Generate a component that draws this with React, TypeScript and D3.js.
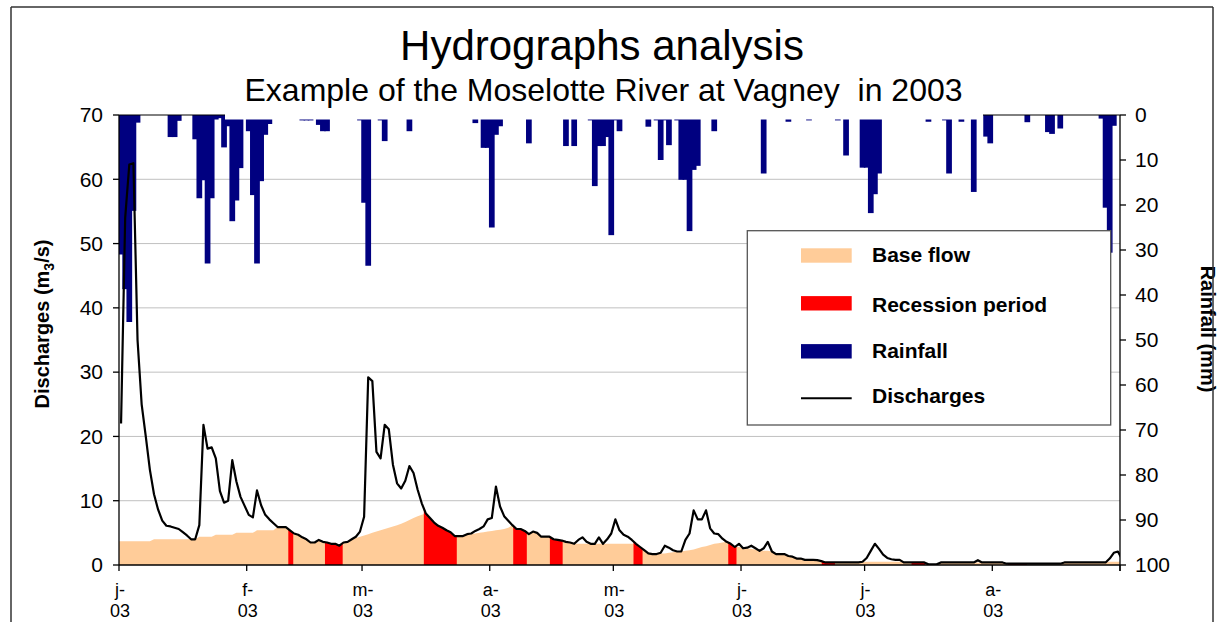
import React from 'react';
import * as d3 from 'd3';

// Daily discharges (m3/s), 1 Jan 2003 .. 1 Sep 2003
const discharge: number[] = [
  22, 54, 62.3, 62.5, 35, 25, 20, 14.8, 11, 8.6,
  6.9, 6.1, 6.0, 5.8, 5.6, 5.1, 4.6, 4.0, 4.0, 6.2,
  21.8, 18.1, 18.3, 16.6, 11.5, 9.7, 10, 16.3, 13, 10.6,
  9.2, 7.8, 7.4, 11.6, 9.3, 7.8, 7.1, 6.5, 5.9, 5.9,
  5.9, 5.4, 4.9, 4.7, 4.3, 4.0, 3.5, 3.5, 3.9, 3.6,
  3.5, 3.3, 3.3, 3.0, 3.5, 3.6, 4.0, 4.4, 5.2, 7.5,
  29.2, 28.6, 17.6, 16.6, 21.8, 21.1, 15.6, 12.7, 11.9, 13.1,
  15.4, 14.3, 11.7, 9.6, 8.0, 7.3, 6.6, 6.1, 5.8, 5.4,
  5.1, 4.5, 4.5, 4.5, 4.8, 4.9, 5.3, 5.6, 6.0, 7.1,
  7.3, 12.2, 9.1, 7.6, 6.9, 6.2, 5.6, 5.6, 5.3, 4.8,
  5.2, 5.0, 4.4, 4.4, 4.4, 4.0, 3.9, 3.8, 3.6, 3.5,
  3.3, 3.9, 4.3, 3.6, 3.3, 3.3, 4.3, 3.3, 4.0, 4.9,
  7.1, 5.4, 4.7, 4.4, 3.9, 3.3, 2.8, 2.3, 1.8, 1.7,
  1.7, 1.9, 3.0, 2.7, 2.3, 2.1, 2.1, 3.9, 4.9, 8.5,
  7.1, 7.1, 8.5, 5.7, 4.9, 4.8, 4.1, 3.6, 3.3, 2.8,
  3.3, 2.6, 2.7, 3.0, 2.6, 2.2, 2.6, 3.6, 2.1, 1.7,
  1.7, 1.7, 1.4, 1.3, 1.0, 1.0, 0.8, 0.8, 0.8, 0.75,
  0.6, 0.4, 0.4, 0.4, 0.4, 0.4, 0.4, 0.4, 0.4, 0.4,
  0.5, 1.1, 2.2, 3.3, 2.5, 1.6, 1.1, 0.9, 0.8, 0.8,
  0.4, 0.4, 0.4, 0.4, 0.4, 0.4, 0.1, 0.1, 0.1, 0.4,
  0.4, 0.4, 0.4, 0.4, 0.4, 0.4, 0.4, 0.4, 0.75, 0.4,
  0.4, 0.4, 0.4, 0.4, 0.4, 0.2, 0.2, 0.2, 0.2, 0.2,
  0.2, 0.2, 0.2, 0.2, 0.2, 0.2, 0.2, 0.2, 0.2, 0.4,
  0.4, 0.4, 0.4, 0.4, 0.4, 0.4, 0.4, 0.4, 0.4, 0.4,
  1.0, 1.9, 2.1, 0.9,
];

// Daily base flow (m3/s)
const baseFlow: number[] = [
  3.7, 3.7, 3.7, 3.7, 3.7, 3.7, 3.7, 3.7, 4.0, 4.0,
  4.0, 4.0, 4.0, 4.0, 4.0, 4.0, 4.0, 4.0, 4.0, 4.4,
  4.4, 4.4, 4.4, 4.7, 4.7, 4.7, 4.7, 4.7, 5.0, 5.0,
  5.0, 5.0, 5.0, 5.4, 5.4, 5.4, 5.4, 5.4, 5.9, 5.9,
  5.9, 5.4, 4.9, 4.7, 4.3, 4.0, 3.5, 3.5, 3.9, 3.6,
  3.5, 3.3, 3.3, 3.0, 3.5, 3.6, 4.0, 4.2, 4.4, 4.6,
  4.8, 5.0, 5.2, 5.4, 5.6, 5.8, 6.0, 6.2, 6.4, 6.7,
  7.0, 7.3, 7.6, 7.8, 8.0, 7.3, 6.6, 6.1, 5.8, 5.4,
  5.1, 4.5, 4.5, 4.5, 4.7, 4.8, 4.9, 5.0, 5.1, 5.2,
  5.3, 5.4, 5.5, 5.6, 5.8, 6.2, 5.6, 5.6, 5.3, 4.8,
  5.2, 5.0, 4.4, 4.4, 4.4, 4.0, 3.9, 3.8, 3.6, 3.5,
  3.3, 3.3, 3.3, 3.3, 3.3, 3.3, 3.3, 3.3, 3.3, 3.3,
  3.3, 3.3, 3.3, 3.3, 3.3, 3.3, 2.8, 2.3, 1.8, 1.7,
  1.7, 1.8, 1.8, 1.9, 2.0, 2.1, 2.1, 2.2, 2.3, 2.4,
  2.6, 2.8, 2.9, 3.1, 3.3, 3.4, 3.5, 3.6, 3.3, 2.8,
  2.8, 2.6, 2.6, 2.5, 2.4, 2.2, 2.2, 2.2, 2.1, 1.7,
  1.7, 1.7, 1.4, 1.3, 1.0, 1.0, 0.8, 0.8, 0.8, 0.75,
  0.6, 0.4, 0.4, 0.4, 0.4, 0.4, 0.4, 0.4, 0.4, 0.4,
  0.5, 0.5, 0.5, 0.5, 0.5, 0.5, 0.5, 0.5, 0.5, 0.5,
  0.4, 0.4, 0.4, 0.4, 0.4, 0.4, 0.1, 0.1, 0.1, 0.4,
  0.4, 0.4, 0.4, 0.4, 0.4, 0.4, 0.4, 0.4, 0.4, 0.4,
  0.4, 0.4, 0.4, 0.4, 0.4, 0.1, 0.1, 0.1, 0.1, 0.1,
  0.1, 0.1, 0.1, 0.1, 0.1, 0.1, 0.1, 0.1, 0.1, 0.4,
  0.4, 0.4, 0.4, 0.4, 0.4, 0.4, 0.4, 0.4, 0.4, 0.4,
  0.5, 0.5, 0.5, 0.5,
];

// Rainfall (mm): day index since 1 Jan and amount
const rainDays: number[] = [
  0, 1, 2, 3, 4, 12, 13, 14, 18, 19, 20, 21, 22, 23, 24, 25, 26, 27, 28, 29,
  31, 32, 33, 34, 35, 36, 44, 45, 46, 48, 49, 50, 58, 59, 60, 63, 64, 70, 86, 88,
  89, 90, 91, 92, 99, 108, 110, 114, 115, 116, 117, 118, 119, 120, 121, 128, 130, 131, 132, 133,
  135, 136, 137, 138, 139, 140, 144, 156, 162, 167, 174, 176, 180, 181, 182, 183, 184, 196, 200, 201,
  204, 207, 210, 211, 220, 225, 226, 228, 238, 239, 240, 241,
];
const rainMm: number[] = [
  31, 38.7, 46, 21.3, 1.7, 4.9, 4.9, 1.3, 5.4, 18.5, 14.5, 33, 18.5, 1.0, 0.7, 7.2, 2.5, 23.6, 19, 11.8,
  3.6, 17.8, 33, 14.7, 4.4, 2, 1.2, 1.2, 1.2, 2.2, 3.6, 3.6, 1.2, 19.5, 33.5, 1.2, 5.8, 3.6, 1.8, 7.3,
  7.3, 25, 4.4, 2.5, 6.3, 6.9, 6.9, 1.2, 15.8, 6.9, 6.9, 4.9, 26.7, 1.2, 3.6, 2.6, 1.2, 10, 1.2, 6.7,
  1.2, 14.4, 14.4, 25.8, 12.2, 11.3, 3.6, 13, 1.5, 1.2, 1.2, 9, 11.7, 11.7, 21.8, 17.6, 13, 1.5, 1.2, 13,
  1.5, 17.1, 4.8, 6.3, 1.6, 3.8, 4.2, 3, 0.8, 20.6, 30.6, 2.4,
];

// Recession periods (start / end, in days since 1 Jan)
const recessionStart: number[] = [41.1, 50.0, 74.0, 95.7, 104.6, 124.9, 147.9, 170.6, 192.4, 215.8];
const recessionEnd: number[] = [42.3, 54.3, 82.0, 99.0, 107.7, 127.1, 149.9, 173.8, 195.7, 220.4];

const monthStartDays: number[] = [0, 31, 59, 90, 120, 151, 181, 212, 243];
const monthLabels: string[] = ['j-', 'f-', 'm-', 'a-', 'm-', 'j-', 'j-', 'a-', ''];
const yearLabel = '03';
const leftTicks: number[] = [0, 10, 20, 30, 40, 50, 60, 70];
const rightTicks: number[] = [0, 10, 20, 30, 40, 50, 60, 70, 80, 90, 100];
const legendLabels: string[] = ['Base flow', 'Recession period', 'Rainfall', 'Discharges'];

const title = 'Hydrographs analysis';
const subtitle = 'Example of the Moselotte River at Vagney  in 2003';

const FONT = '"Liberation Sans", Arial, Helvetica, sans-serif';
const PEACH = '#FFCC99';
const RED = '#FF0000';
const NAVY = '#000080';

export default function App() {
  const W = 1219;
  const H = 622;
  const L = 119, R = 1120, T = 115, B = 565;

  const x = d3.scaleLinear().domain([0, 243]).range([L, R]);
  const yL = d3.scaleLinear().domain([0, 70]).range([B, T]);
  const yR = d3.scaleLinear().domain([0, 100]).range([T, B]);

  const qAt = (t: number) => {
    const p = t - 0.5;
    if (p <= 0) return discharge[0];
    if (p >= discharge.length - 1) return discharge[discharge.length - 1];
    const i = Math.floor(p);
    const f = p - i;
    return discharge[i] * (1 - f) + discharge[i + 1] * f;
  };

  const linePath = d3
    .line<number>()
    .x((_, i) => x(i + 0.5))
    .y((v) => yL(v))(discharge) || '';

  const basePts: [number, number][] = [[0, baseFlow[0]]];
  baseFlow.forEach((v, i) => basePts.push([i + 0.5, v]));
  basePts.push([243, baseFlow[baseFlow.length - 1]]);
  const area = d3
    .area<[number, number]>()
    .x((d) => x(d[0]))
    .y0(yL(0))
    .y1((d) => yL(d[1]));
  const basePath = area(basePts) || '';

  const redPaths = recessionStart.map((s, k) => {
    const e = recessionEnd[k];
    const pts: [number, number][] = [[s, qAt(s)]];
    for (let d = 0; d < discharge.length; d++) {
      const t = d + 0.5;
      if (t > s && t < e) pts.push([t, qAt(t)]);
    }
    pts.push([e, qAt(e)]);
    return area(pts) || '';
  });

  const step = x(1) - x(0);

  const legX = 747.3, legY = 230.7, legW = 363.4, legH = 194.3;
  const swX = 801, swW = 50.7;
  const rowY = [255.5, 303.3, 351.3, 398.3];
  const textBase = [262, 312, 358.3, 402.7];

  return (
    <svg
      width={W}
      height={H}
      viewBox={`0 0 ${W} ${H}`}
      style={{ position: 'absolute', left: 0, top: 0, background: '#fff', fontFamily: FONT }}
    >
      <defs>
        <clipPath id="plotClip">
          <rect x={L} y={T - 2} width={R - L} height={B - T + 2} />
        </clipPath>
      </defs>
      <rect x={0} y={0} width={W} height={H} fill="#fff" />

      {/* gridlines */}
      {leftTicks
        .filter((t) => t > 0 && t < 70)
        .map((t) => (
          <line key={'g' + t} x1={L} x2={R} y1={yL(t)} y2={yL(t)} stroke="#C0C0C0" strokeWidth={1} />
        ))}

      <g clipPath="url(#plotClip)">
        {/* base flow */}
        <path d={basePath} fill={PEACH} />
        {/* recession periods */}
        {redPaths.map((p, i) => (
          <path key={'r' + i} d={p} fill={RED} />
        ))}
        {/* rainfall bars */}
        {rainDays.map((d, i) => (
          <rect
            key={'b' + i}
            x={x(d) - 0.8}
            y={yR(0)}
            width={step + 1.6}
            height={yR(rainMm[i]) - yR(0)}
            fill={NAVY}
          />
        ))}
        {/* discharges */}
        <path d={linePath} fill="none" stroke="#000" strokeWidth={2.2} strokeLinejoin="round" />
      </g>

      {/* plot top border */}
      <line x1={L} x2={R} y1={T} y2={T} stroke="#000" strokeWidth={1} />
      {/* axes */}
      <line x1={L} x2={L} y1={T} y2={B} stroke="#000" strokeWidth={1.3} />
      <line x1={R} x2={R} y1={T} y2={B + 6} stroke="#000" strokeWidth={1.3} />
      <line x1={L} x2={R} y1={B} y2={B} stroke="#000" strokeWidth={1.3} />

      {/* left axis ticks */}
      {leftTicks.map((t) => (
        <g key={'lt' + t}>
          <line x1={L - 6} x2={L} y1={yL(t)} y2={yL(t)} stroke="#000" strokeWidth={1.3} />
          <text x={103} y={yL(t)} dy="0.35em" textAnchor="end" fontSize={21} fill="#000">
            {t}
          </text>
        </g>
      ))}
      {/* right axis ticks */}
      {rightTicks.map((t) => (
        <g key={'rt' + t}>
          <line x1={R} x2={R + 6} y1={yR(t)} y2={yR(t)} stroke="#000" strokeWidth={1.3} />
          <text x={1135} y={yR(t)} dy="0.35em" textAnchor="start" fontSize={21} fill="#000">
            {t}
          </text>
        </g>
      ))}
      {/* x axis ticks */}
      {monthStartDays.map((d, i) => (
        <g key={'xt' + i}>
          <line x1={x(d)} x2={x(d)} y1={B} y2={B + 6} stroke="#000" strokeWidth={1.3} />
          {monthLabels[i] !== '' && (
            <>
              <text x={x(d) + 1} y={596} textAnchor="middle" fontSize={18} fill="#000">
                {monthLabels[i]}
              </text>
              <text x={x(d) + 1} y={617} textAnchor="middle" fontSize={18} fill="#000">
                {yearLabel}
              </text>
            </>
          )}
        </g>
      ))}

      {/* axis titles */}
      <text
        transform="translate(49,324) rotate(-90)"
        textAnchor="middle"
        fontSize={20}
        fontWeight="bold"
        fill="#000"
      >
        Discharges (m
        <tspan fontSize={14} dy={5}>
          3
        </tspan>
        <tspan dy={-5}>/s)</tspan>
      </text>
      <text
        transform="translate(1201,329) rotate(90)"
        textAnchor="middle"
        fontSize={20}
        fontWeight="bold"
        fill="#000"
      >
        Rainfall (mm)
      </text>

      {/* title box (white) overlapping top of plot */}
      <rect x={225} y={8} width={758} height={111.5} fill="#fff" />
      <text x={602} y={60} textAnchor="middle" fontSize={42} fill="#000">
        {title}
      </text>
      <text
        x={603.5}
        y={101}
        textAnchor="middle"
        fontSize={32}
        fill="#000"
        style={{ whiteSpace: 'pre' }}
        xmlSpace="preserve"
      >
        {subtitle}
      </text>

      {/* legend */}
      <rect x={legX} y={legY} width={legW} height={legH} fill="#fff" stroke="#555" strokeWidth={1.3} />
      {legendLabels.map((lab, i) => (
        <g key={'lg' + i}>
          {i < 3 ? (
            <rect
              x={swX}
              y={rowY[i] - 7.2}
              width={swW}
              height={14.4}
              fill={i === 0 ? PEACH : i === 1 ? RED : NAVY}
            />
          ) : (
            <line x1={swX} x2={swX + swW} y1={rowY[i]} y2={rowY[i]} stroke="#000" strokeWidth={2} />
          )}
          <text x={872} y={textBase[i]} fontSize={21} fontWeight="bold" fill="#000">
            {lab}
          </text>
        </g>
      ))}

      {/* outer frame */}
      <line x1={11} x2={11} y1={7} y2={H} stroke="#333" strokeWidth={1.5} />
      <line x1={11} x2={1213} y1={7} y2={7} stroke="#333" strokeWidth={1.5} />
      <line x1={1213} x2={1213} y1={7} y2={H} stroke="#333" strokeWidth={1.5} />
    </svg>
  );
}
